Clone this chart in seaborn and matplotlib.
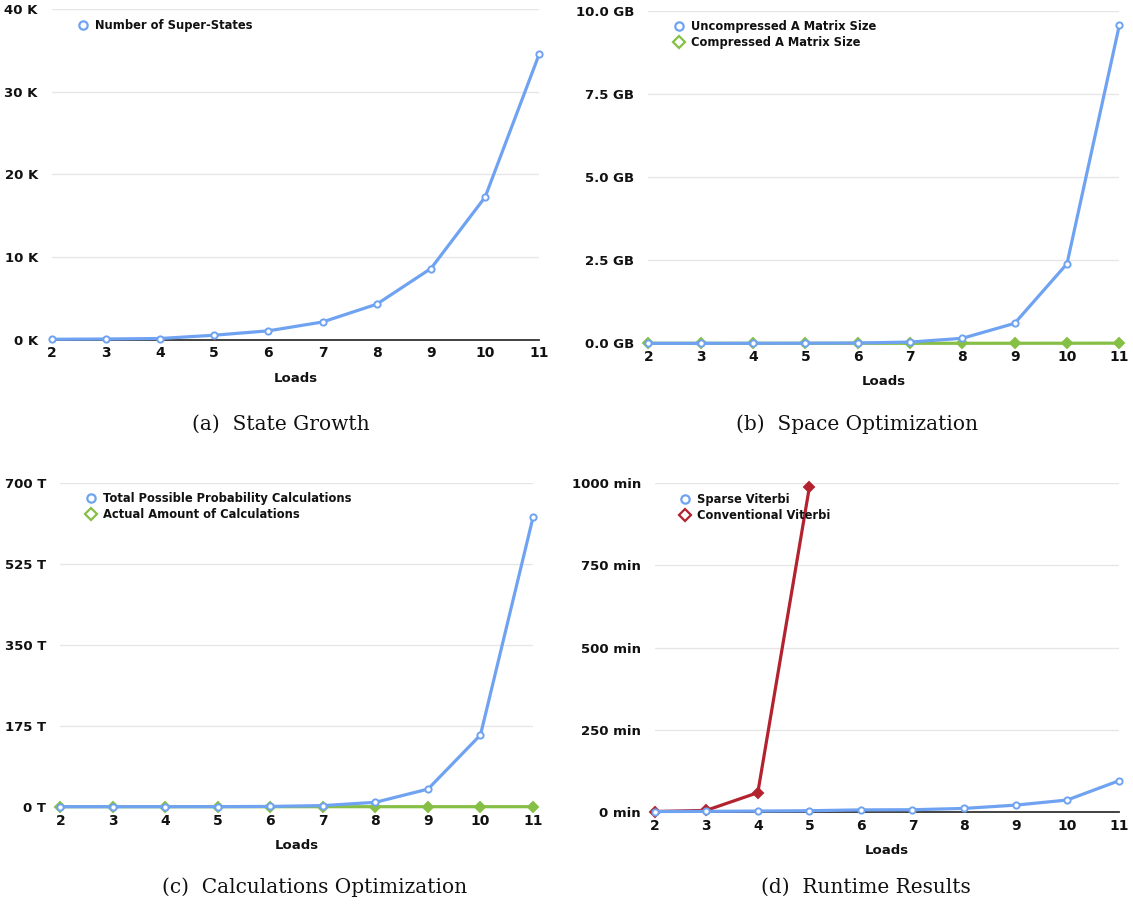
import numpy as np
import pandas as pd
import matplotlib
matplotlib.use("Agg")
import matplotlib.pyplot as plt
from matplotlib.lines import Line2D
from matplotlib.ticker import FuncFormatter, FixedLocator
import seaborn as sns

# ---- data -------------------------------------------------------------
loads = [2, 3, 4, 5, 6, 7, 8, 9, 10, 11]

# (a) number of super-states, in thousands
super_states_k = [0.03, 0.06, 0.12, 0.52, 1.05, 2.12, 4.28, 8.6, 17.25, 34.6]

# (b) A matrix size, in GB
uncompressed_gb = [0.0, 0.0, 0.0005, 0.002, 0.009, 0.037, 0.15, 0.60, 2.39, 9.56]
compressed_gb = [0.0, 0.0, 0.0, 0.0, 0.0001, 0.0002, 0.0005, 0.001, 0.002, 0.004]

# (c) probability calculations, in trillions
total_calcs_t = [0.002, 0.01, 0.04, 0.15, 0.6, 2.4, 9.5, 38.0, 155.0, 625.0]
actual_calcs_t = [0.0, 0.0, 0.0, 0.0, 0.001, 0.002, 0.005, 0.01, 0.02, 0.04]

# (d) runtime, in minutes
sparse_min = [0.5, 1.0, 2.0, 3.0, 5.5, 6.0, 10.0, 20.0, 35.5, 94.0]
conventional_loads = [2, 3, 4, 5]
conventional_min = [0.5, 4.0, 58.0, 988.0]

# ---- styling ----------------------------------------------------------
sns.set_theme(style="white")
plt.rcParams["font.family"] = ["DejaVu Sans"]

BLUE = "#6fa3f2"
GREEN = "#86bf45"
RED = "#b3232f"
GRID = "#e6e6e6"
TEXT = "#111111"

W, H = 1133, 905
fig = plt.figure(figsize=(W / 100, H / 100), dpi=100)


def add_panel(x0, x1, ytop, ybot):
    return fig.add_axes([x0 / W, 1 - ybot / H, (x1 - x0) / W, (ybot - ytop) / H])


def style_axes(ax, yticks, fmt):
    ax.set_xlim(2, 11)
    ax.set_ylim(yticks[0], yticks[-1])
    ax.xaxis.set_major_locator(FixedLocator(loads))
    ax.yaxis.set_major_locator(FixedLocator(yticks))
    ax.yaxis.set_major_formatter(FuncFormatter(fmt))
    for side in ("left", "right", "top"):
        ax.spines[side].set_visible(False)
    ax.spines["bottom"].set_color("#333333")
    ax.spines["bottom"].set_linewidth(1.3)
    ax.spines["bottom"].set_zorder(1)
    ax.grid(axis="y", color=GRID, linewidth=1.0)
    ax.grid(axis="x", visible=False)
    ax.set_axisbelow(True)
    ax.tick_params(axis="y", length=0, pad=10, labelsize=9.5, labelcolor=TEXT)
    ax.tick_params(axis="x", length=0, pad=5, labelsize=10, labelcolor=TEXT)
    for lab in ax.get_xticklabels() + ax.get_yticklabels():
        lab.set_fontweight("bold")
    ax.set_xlabel("Loads", fontsize=9.5, fontweight="bold", color=TEXT, labelpad=8)
    ax.set_ylabel("")


def draw_series(ax, x, y, color, marker, hollow):
    df = pd.DataFrame({"Loads": x, "value": y})
    face = "white" if hollow else color
    sns.lineplot(data=df, x="Loads", y="value", ax=ax, color=color, linewidth=2.3,
                 marker=marker, markersize=4.5 if marker == "o" else 4.8,
                 markerfacecolor=face, markeredgecolor=color, markeredgewidth=1.4,
                 clip_on=False, zorder=3)


def add_legend(ax, entries):
    handles = [Line2D([], [], ls="none", marker=m, markersize=6 if m == "o" else 6,
                      markerfacecolor="white", markeredgecolor=c, markeredgewidth=1.6)
               for _, c, m in entries]
    labels = [t for t, _, _ in entries]
    leg = ax.legend(handles, labels, loc="upper left", bbox_to_anchor=(0.04, 0.985),
                    frameon=False, fontsize=8.3, handletextpad=0.5, labelspacing=0.25,
                    borderaxespad=0.0, handlelength=1.2)
    for t in leg.get_texts():
        t.set_fontweight("semibold")
        t.set_color(TEXT)


# (a) State Growth
ax_a = add_panel(51.7, 539.3, 9.3, 339.5)
draw_series(ax_a, loads, super_states_k, BLUE, "o", True)
style_axes(ax_a, [0, 10, 20, 30, 40], lambda v, p: f"{v:.0f} K")
add_legend(ax_a, [("Number of Super-States", BLUE, "o")])

# (b) Space Optimization
ax_b = add_panel(648.3, 1119.3, 10.7, 343.3)
draw_series(ax_b, loads, compressed_gb, GREEN, "D", False)
draw_series(ax_b, loads, uncompressed_gb, BLUE, "o", True)
style_axes(ax_b, [0, 2.5, 5.0, 7.5, 10.0], lambda v, p: f"{v:.1f} GB")
add_legend(ax_b, [("Uncompressed A Matrix Size", BLUE, "o"),
                  ("Compressed A Matrix Size", GREEN, "D")])

# (c) Calculations Optimization
ax_c = add_panel(60.3, 533.0, 482.7, 806.7)
draw_series(ax_c, loads, actual_calcs_t, GREEN, "D", False)
draw_series(ax_c, loads, total_calcs_t, BLUE, "o", True)
style_axes(ax_c, [0, 175, 350, 525, 700], lambda v, p: f"{v:.0f} T")
add_legend(ax_c, [("Total Possible Probability Calculations", BLUE, "o"),
                  ("Actual Amount of Calculations", GREEN, "D")])

# (d) Runtime Results
ax_d = add_panel(654.7, 1118.7, 483.3, 811.7)
draw_series(ax_d, conventional_loads, conventional_min, RED, "D", False)
draw_series(ax_d, loads, sparse_min, BLUE, "o", True)
style_axes(ax_d, [0, 250, 500, 750, 1000], lambda v, p: f"{v:.0f} min")
add_legend(ax_d, [("Sparse Viterbi", BLUE, "o"),
                  ("Conventional Viterbi", RED, "D")])

# sub-figure captions
cap_kw = dict(fontsize=14.5, family=["DejaVu Serif"], ha="center", va="center", color=TEXT)
fig.text(280.5 / W, 1 - 424 / H, "(a)  State Growth", **cap_kw)
fig.text(857 / W, 1 - 424 / H, "(b)  Space Optimization", **cap_kw)
fig.text(315 / W, 1 - 887 / H, "(c)  Calculations Optimization", **cap_kw)
fig.text(866 / W, 1 - 887 / H, "(d)  Runtime Results", **cap_kw)

fig.savefig("out.png", dpi=100, facecolor="white")
